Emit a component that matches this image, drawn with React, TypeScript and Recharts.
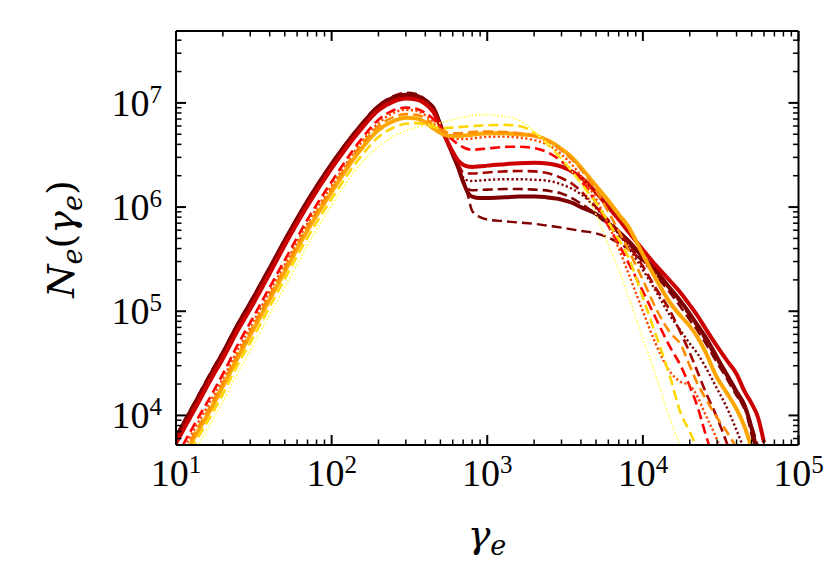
import * as React from "react";
import { LineChart, Line, XAxis, YAxis } from "recharts";

// gamma_e grid shared by all curves
const GAMMA = [
  10, 13, 17, 20, 25, 30, 40, 50, 70, 100,
  150, 200, 250, 300, 350, 400, 450, 520, 600, 650,
  700, 750, 800, 900, 1000, 1300, 1600, 2000, 2500, 3000,
  3500, 4000, 5000, 6000, 7000, 8000, 10000, 12000, 15000, 17500,
  20000, 22500, 25000, 30000, 35000, 40000, 45000, 50000, 55000, 60000,
];

// N_e(gamma_e), one array per curve
const S1 = [
  6.4e3, 1.3e4, 2.7e4, 4.1e4, 7.7e4, 1.23e5, 2.65e5, 4.9e5, 1.17e6, 2.65e6,
  5.9e6, 9.5e6, 1.16e7, 1.25e7, 1.22e7, 1.08e7, 9.2e6, 5.3e6, 3.2e6, 2.4e6,
  1.8e6, 1.3e6, 9.2e5, 8.0e5, 7.6e5, 7.3e5, 7.1e5, 6.9e5, 6.6e5, 6.35e5,
  6.1e5, 5.9e5, 5.6e5, 5.1e5, 4.5e5, 4.0e5, 3.0e5, 2.3e5, 1.6e5, 1.2e5,
  9.0e4, 7.0e4, 5.4e4, 3.4e4, 2.3e4, 1.6e4, 1.15e4, 8.0e3, 5.0e3, null,
];
const S2 = [
  6.2e3, 1.25e4, 2.6e4, 4.0e4, 7.5e4, 1.2e5, 2.6e5, 4.8e5, 1.15e6, 2.6e6,
  5.8e6, 9.3e6, 1.13e7, 1.2e7, 1.17e7, 1.05e7, 9.0e6, 5.3e6, 3.2e6, 2.4e6,
  1.75e6, 1.38e6, 1.26e6, 1.22e6, 1.22e6, 1.24e6, 1.26e6, 1.26e6, 1.23e6, 1.18e6,
  1.1e6, 1.0e6, 8.6e5, 7.0e5, 5.8e5, 4.8e5, 3.3e5, 2.5e5, 1.65e5, 1.25e5,
  9.5e4, 7.3e4, 5.8e4, 3.6e4, 2.4e4, 1.7e4, 1.25e4, 7.5e3, 4.0e3, null,
];
const S3 = [
  6.3e3, 1.28e4, 2.65e4, 4.05e4, 7.6e4, 1.22e5, 2.62e5, 4.85e5, 1.16e6, 2.62e6,
  5.85e6, 9.4e6, 1.15e7, 1.23e7, 1.2e7, 1.07e7, 9.1e6, 5.3e6, 3.2e6, 2.4e6,
  1.78e6, 1.5e6, 1.45e6, 1.46e6, 1.47e6, 1.49e6, 1.49e6, 1.47e6, 1.43e6, 1.35e6,
  1.22e6, 1.08e6, 8.5e5, 6.7e5, 5.4e5, 4.5e5, 3.1e5, 2.25e5, 1.5e5, 1.1e5,
  8.3e4, 6.5e4, 5.1e4, 3.2e4, 2.2e4, 1.55e4, 1.2e4, 6.5e3, 3.5e3, null,
];
const S4 = [
  6.0e3, 1.22e4, 2.55e4, 3.9e4, 7.3e4, 1.17e5, 2.55e5, 4.7e5, 1.12e6, 2.55e6,
  5.7e6, 9.1e6, 1.1e7, 1.16e7, 1.13e7, 1.02e7, 8.8e6, 5.3e6, 3.2e6, 2.45e6,
  1.92e6, 1.8e6, 1.78e6, 1.8e6, 1.82e6, 1.85e6, 1.85e6, 1.83e6, 1.78e6, 1.65e6,
  1.5e6, 1.33e6, 9.8e5, 7.3e5, 5.5e5, 4.2e5, 2.5e5, 1.6e5, 9.0e4, 6.5e4,
  4.9e4, 3.9e4, 3.0e4, 1.8e4, 1.15e4, 7.2e3, 4.6e3, null, null, null,
];
const S5 = [
  5.8e3, 1.18e4, 2.45e4, 3.75e4, 7.0e4, 1.12e5, 2.45e5, 4.5e5, 1.08e6, 2.45e6,
  5.5e6, 8.8e6, 1.07e7, 1.13e7, 1.1e7, 1.0e7, 8.6e6, 5.3e6, 3.3e6, 2.6e6,
  2.15e6, 2.1e6, 2.1e6, 2.12e6, 2.15e6, 2.2e6, 2.22e6, 2.2e6, 2.1e6, 1.9e6,
  1.68e6, 1.42e6, 1.0e6, 7.5e5, 5.8e5, 4.4e5, 2.7e5, 1.7e5, 1.0e5, 6.2e4,
  4.0e4, 2.6e4, 1.75e4, 9.5e3, 5.2e3, 3.0e3, null, null, null, null,
];
const S6 = [
  5.4e3, 1.1e4, 2.3e4, 3.5e4, 6.6e4, 1.05e5, 2.3e5, 4.3e5, 1.03e6, 2.35e6,
  5.3e6, 8.5e6, 1.03e7, 1.1e7, 1.08e7, 9.8e6, 8.2e6, 5.2e6, 3.4e6, 2.8e6,
  2.55e6, 2.45e6, 2.43e6, 2.46e6, 2.5e6, 2.58e6, 2.64e6, 2.66e6, 2.6e6, 2.45e6,
  2.2e6, 1.93e6, 1.38e6, 1.0e6, 7.6e5, 5.9e5, 3.9e5, 2.8e5, 1.95e5, 1.5e5,
  1.15e5, 9.0e4, 7.0e4, 4.6e4, 3.3e4, 2.5e4, 1.7e4, 1.3e4, 9.5e3, 5.5e3,
];
const S7 = [
  3.9e3, 8.0e3, 1.6e4, 2.5e4, 4.8e4, 7.8e4, 1.7e5, 3.1e5, 7.6e5, 1.75e6,
  4.2e6, 6.9e6, 8.5e6, 9.0e6, 8.8e6, 8.0e6, 7.0e6, 5.4e6, 4.4e6, 4.0e6,
  3.75e6, 3.6e6, 3.55e6, 3.6e6, 3.65e6, 3.78e6, 3.8e6, 3.68e6, 3.3e6, 2.75e6,
  2.25e6, 1.8e6, 1.1e6, 6.6e5, 4.4e5, 3.0e5, 1.55e5, 8.8e4, 4.5e4, 3.0e4,
  1.9e4, 1.2e4, 7.0e3, 3.0e3, null, null, null, null, null, null,
];
const S8 = [
  3.5e3, 7.2e3, 1.45e4, 2.25e4, 4.3e4, 7.0e4, 1.55e5, 2.8e5, 7.0e5, 1.6e6,
  3.9e6, 6.4e6, 8.0e6, 8.6e6, 8.4e6, 7.6e6, 6.6e6, 5.4e6, 4.6e6, 4.5e6,
  4.5e6, 4.5e6, 4.55e6, 4.65e6, 4.72e6, 4.75e6, 4.65e6, 4.4e6, 3.9e6, 3.2e6,
  2.55e6, 2.0e6, 1.2e6, 6.8e5, 4.0e5, 2.4e5, 1.0e5, 5.0e4, 2.6e4, 2.1e4,
  1.95e4, 1.5e4, 1.05e4, 5.8e3, 3.0e3, null, null, null, null, null,
];
const S9 = [
  3.0e3, 6.0e3, 1.2e4, 1.9e4, 3.6e4, 5.9e4, 1.3e5, 2.4e5, 6.0e5, 1.4e6,
  3.4e6, 5.5e6, 6.7e6, 7.2e6, 7.1e6, 6.5e6, 5.7e6, 5.0e6, 4.8e6, 4.8e6,
  4.85e6, 4.9e6, 4.95e6, 5.05e6, 5.1e6, 5.1e6, 5.0e6, 4.85e6, 4.3e6, 3.6e6,
  3.0e6, 2.4e6, 1.6e6, 1.15e6, 8.5e5, 6.6e5, 3.5e5, 2.1e5, 1.2e5, 9.0e4,
  7.2e4, 5.6e4, 4.2e4, 2.3e4, 1.6e4, 1.15e4, 7.8e3, 4.8e3, 3.0e3, null,
];
const S10 = [
  3.2e3, 6.5e3, 1.3e4, 2.05e4, 3.9e4, 6.4e4, 1.42e5, 2.6e5, 6.5e5, 1.5e6,
  3.7e6, 6.0e6, 7.3e6, 7.8e6, 7.7e6, 7.1e6, 6.2e6, 5.4e6, 5.1e6, 5.1e6,
  5.15e6, 5.2e6, 5.25e6, 5.3e6, 5.3e6, 5.25e6, 5.1e6, 4.8e6, 4.2e6, 3.5e6,
  2.85e6, 2.3e6, 1.45e6, 9.0e5, 5.9e5, 4.0e5, 2.0e5, 1.1e5, 6.2e4, 4.8e4,
  3.0e4, 2.0e4, 1.5e4, 9.5e3, 6.8e3, 4.8e3, 3.2e3, null, null, null,
];
const S11 = [
  2.6e3, 5.2e3, 1.03e4, 1.6e4, 3.1e4, 5.0e4, 1.1e5, 2.05e5, 5.1e5, 1.2e6,
  2.9e6, 4.7e6, 5.8e6, 6.3e6, 6.4e6, 6.2e6, 5.9e6, 5.7e6, 5.8e6, 5.85e6,
  5.9e6, 5.95e6, 6.0e6, 6.05e6, 6.1e6, 6.15e6, 6.0e6, 5.2e6, 3.9e6, 2.9e6,
  2.2e6, 1.7e6, 1.1e6, 7.2e5, 4.9e5, 3.4e5, 1.35e5, 6.2e4, 2.3e4, 1.05e4,
  7.0e3, 4.6e3, 2.8e3, null, null, null, null, null, null, null,
];
const S12 = [
  2.1e3, 4.3e3, 8.8e3, 1.35e4, 2.6e4, 4.2e4, 9.3e4, 1.7e5, 4.3e5, 1.05e6,
  2.5e6, 3.8e6, 4.8e6, 5.4e6, 5.8e6, 6.1e6, 6.3e6, 6.5e6, 6.9e6, 7.1e6,
  7.3e6, 7.45e6, 7.55e6, 7.7e6, 7.7e6, 7.4e6, 6.8e6, 5.3e6, 3.9e6, 2.95e6,
  2.2e6, 1.65e6, 8.5e5, 4.3e5, 2.5e5, 1.45e5, 5.5e4, 2.5e4, 9.0e3, 5.0e3,
  3.0e3, null, null, null, null, null, null, null, null, null,
];

const X_TICKS = [
  10, 20, 30, 40, 50, 60, 70, 80, 90,
  100, 200, 300, 400, 500, 600, 700, 800, 900,
  1000, 2000, 3000, 4000, 5000, 6000, 7000, 8000, 9000,
  10000, 20000, 30000, 40000, 50000, 60000, 70000, 80000, 90000, 100000,
];
const Y_TICKS = [
  6e3, 7e3, 8e3, 9e3,
  1e4, 2e4, 3e4, 4e4, 5e4, 6e4, 7e4, 8e4, 9e4,
  1e5, 2e5, 3e5, 4e5, 5e5, 6e5, 7e5, 8e5, 9e5,
  1e6, 2e6, 3e6, 4e6, 5e6, 6e6, 7e6, 8e6, 9e6,
  1e7, 2e7, 3e7, 4e7,
];

const DASH = "10 5";
const DOT = "2.2 2.4";

const SERIES = [
  { key: "s1", values: S1, color: "#7f0000", width: 2.4, dash: DASH },
  { key: "s2", values: S2, color: "#7f0000", width: 4, dash: undefined },
  { key: "s3", values: S3, color: "#7f0000", width: 2.6, dash: DASH },
  { key: "s4", values: S4, color: "#7f0000", width: 2.4, dash: DOT },
  { key: "s5", values: S5, color: "#a50000", width: 2.6, dash: DASH },
  { key: "s6", values: S6, color: "#cc0000", width: 4, dash: undefined },
  { key: "s7", values: S7, color: "#ff0000", width: 2.6, dash: DASH },
  { key: "s8", values: S8, color: "#ff4500", width: 2.4, dash: DOT },
  { key: "s9", values: S9, color: "#ffa500", width: 4, dash: undefined },
  { key: "s10", values: S10, color: "#ff8c00", width: 2.6, dash: DASH },
  { key: "s11", values: S11, color: "#ffd700", width: 2.6, dash: DASH },
  { key: "s12", values: S12, color: "#ffff55", width: 1.7, dash: "1.7 2" },
];

const data = GAMMA.map((g, i) => {
  const row: Record<string, number | null> = { g };
  SERIES.forEach((s) => {
    row[s.key] = s.values[i];
  });
  return row;
});

const FONT = "'Liberation Serif', 'DejaVu Serif', serif";
const MATH = "'DejaVu Serif', serif";

const isMajor = (v: number) => {
  const l = Math.log10(v);
  return Math.abs(l - Math.round(l)) < 1e-9;
};

function TickLabel({ x, y, anchor, v }: { x: number; y: number; anchor: string; v: number }) {
  return (
    <text x={x} y={y} textAnchor={anchor} fontFamily={FONT} fontSize={38} fill="#000">
      10
      <tspan dy={-13} fontSize={25}>
        {Math.round(Math.log10(v))}
      </tspan>
    </text>
  );
}

function BottomTick(props: any) {
  const { x, y, payload } = props;
  const major = isMajor(payload.value);
  return (
    <g>
      <line x1={x} y1={y} x2={x} y2={y - (major ? 10 : 5.5)} stroke="#000" strokeWidth={major ? 2 : 1.5} />
      {major && <TickLabel x={x} y={y + 41} anchor="middle" v={payload.value} />}
    </g>
  );
}

function TopTick(props: any) {
  const { x, y, payload } = props;
  const major = isMajor(payload.value);
  return <line x1={x} y1={y} x2={x} y2={y + (major ? 10 : 5.5)} stroke="#000" strokeWidth={major ? 2 : 1.5} />;
}

function LeftTick(props: any) {
  const { x, y, payload } = props;
  const major = isMajor(payload.value);
  return (
    <g>
      <line x1={x} y1={y} x2={x + (major ? 10 : 5.5)} y2={y} stroke="#000" strokeWidth={major ? 2 : 1.5} />
      {major && <TickLabel x={x - 14} y={y + 13} anchor="end" v={payload.value} />}
    </g>
  );
}

function RightTick(props: any) {
  const { x, y, payload } = props;
  const major = isMajor(payload.value);
  return <line x1={x} y1={y} x2={x - (major ? 10 : 5.5)} y2={y} stroke="#000" strokeWidth={major ? 2 : 1.5} />;
}

const spine = { stroke: "#000", strokeWidth: 2 };

export default function App() {
  return (
    <div style={{ position: "absolute", left: 0, top: 0, width: 830, height: 571, background: "#fff" }}>
      <LineChart width={830} height={571} data={data} margin={{ top: 30, right: 30.5, bottom: 0, left: 0 }}>
        <XAxis
          xAxisId="b"
          dataKey="g"
          type="number"
          scale="log"
          domain={[10, 100000]}
          allowDataOverflow
          ticks={X_TICKS}
          interval={0}
          tick={<BottomTick />}
          tickLine={false}
          tickSize={0}
          tickMargin={0}
          axisLine={spine}
          height={126}
        />
        <XAxis
          xAxisId="t"
          orientation="top"
          dataKey="g"
          type="number"
          scale="log"
          domain={[10, 100000]}
          allowDataOverflow
          ticks={X_TICKS}
          interval={0}
          tick={<TopTick />}
          tickLine={false}
          tickSize={0}
          tickMargin={0}
          axisLine={spine}
          height={1}
        />
        <YAxis
          yAxisId="l"
          type="number"
          scale="log"
          domain={[5200, 4.9e7]}
          allowDataOverflow
          ticks={Y_TICKS}
          interval={0}
          tick={<LeftTick />}
          tickLine={false}
          tickSize={0}
          tickMargin={0}
          axisLine={spine}
          width={176}
        />
        <YAxis
          yAxisId="r"
          orientation="right"
          type="number"
          scale="log"
          domain={[5200, 4.9e7]}
          allowDataOverflow
          ticks={Y_TICKS}
          interval={0}
          tick={<RightTick />}
          tickLine={false}
          tickSize={0}
          tickMargin={0}
          axisLine={spine}
          width={1}
        />
        {/* invisible series so the mirrored top/right axes are drawn */}
        <Line
          xAxisId="t"
          yAxisId="r"
          dataKey="s2"
          stroke="none"
          strokeWidth={0}
          dot={false}
          activeDot={false}
          legendType="none"
          isAnimationActive={false}
        />
        {SERIES.map((s) => (
          <Line
            key={s.key}
            xAxisId="b"
            yAxisId="l"
            dataKey={s.key}
            type="monotone"
            stroke={s.color}
            strokeWidth={s.width}
            strokeDasharray={s.dash}
            strokeLinejoin="round"
            dot={false}
            activeDot={false}
            connectNulls={false}
            isAnimationActive={false}
          />
        ))}
      </LineChart>
      <svg
        width={830}
        height={571}
        style={{ position: "absolute", left: 0, top: 0, pointerEvents: "none" }}
      >
        <text x={487} y={547} textAnchor="middle" fontFamily={MATH} fontSize={38} fontStyle="italic" fill="#000">
          γ
          <tspan dy={8} fontSize={27}>e</tspan>
        </text>
        <text
          x={0}
          y={0}
          transform="translate(74 239) rotate(-90)"
          textAnchor="middle"
          fontFamily={MATH}
          fontSize={38}
          fontStyle="italic"
          fill="#000"
        >
          N
          <tspan dy={8} fontSize={27}>e</tspan>
          <tspan dy={-8} fontStyle="normal">(</tspan>
          <tspan>γ</tspan>
          <tspan dy={8} fontSize={27}>e</tspan>
          <tspan dy={-8} fontStyle="normal">)</tspan>
        </text>
      </svg>
    </div>
  );
}
